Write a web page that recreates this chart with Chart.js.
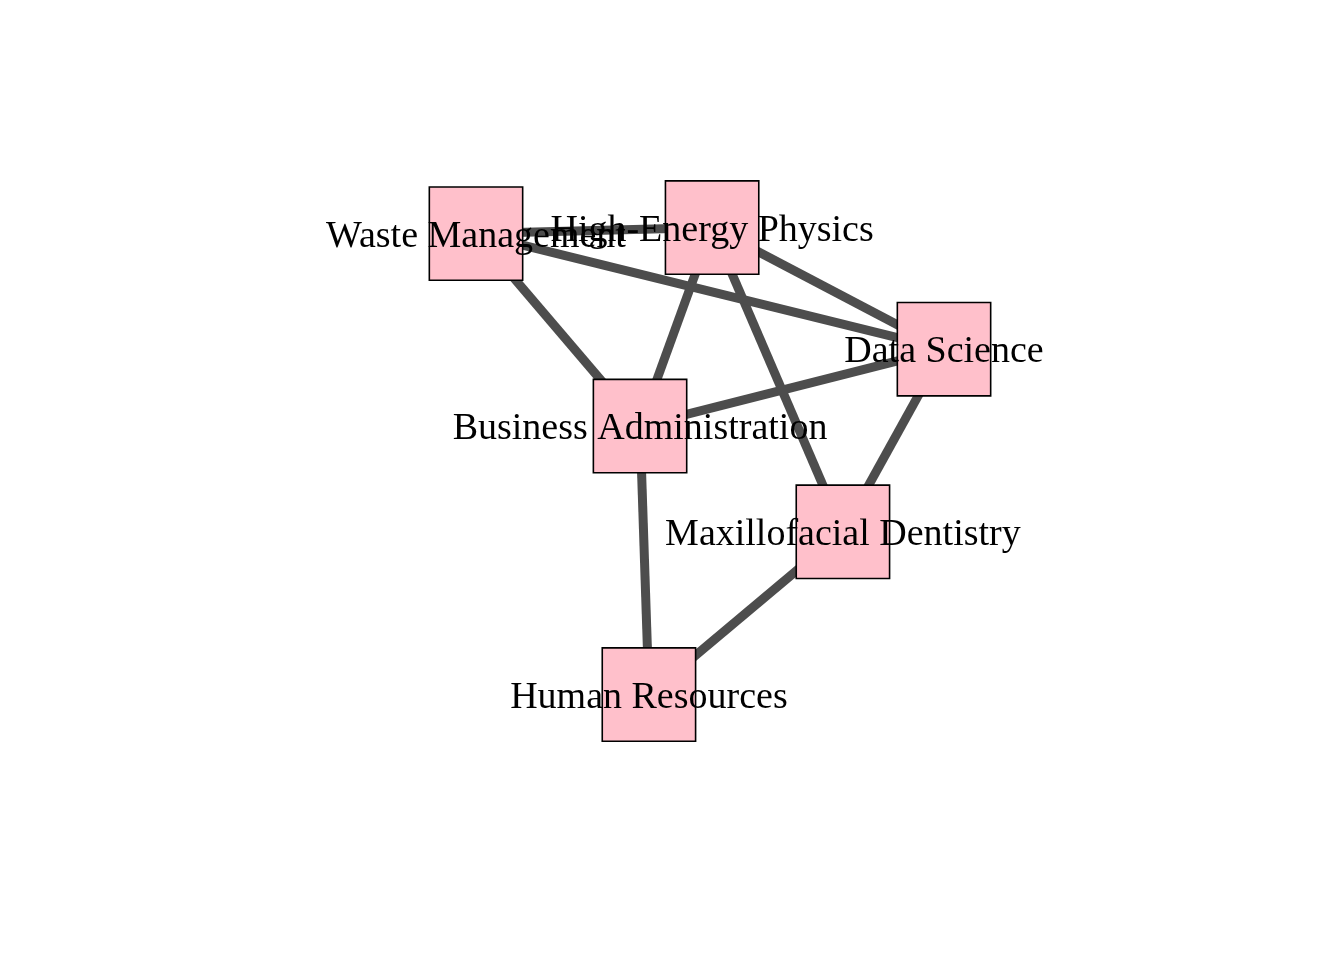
<!DOCTYPE html>
<html>
<head>
<meta charset="utf-8">
<script src="https://cdn.jsdelivr.net/npm/chart.js@4.4.1/dist/chart.umd.min.js"></script>
<style>
  html, body { margin: 0; padding: 0; background: #fff; overflow: hidden; }
  #wrap { width: 1344px; height: 960px; }
</style>
</head>
<body>
<div id="wrap"><canvas id="net"></canvas></div>
<script>
// Network layout (layout units, y up)
const nodeNames = ["Waste Management", "High-Energy Physics", "Data Science",
    "Business Administration", "Maxillofacial Dentistry", "Human Resources"];
const nodeX = [-1.0, 0.009, 1.0, -0.299, 0.568, -0.261];
const nodeY = [0.974, 1.0, 0.479, 0.150, -0.303, -1.0];
// edges as pairs of node indices
const edgeFrom = [0, 0, 0, 1, 1, 1, 2, 2, 3, 4];
const edgeTo   = [1, 2, 3, 2, 3, 4, 3, 4, 5, 5];

let pt = (i) => ({ x: nodeX[i], y: nodeY[i] });

let datasets = edgeFrom.map((f, k) => ({
    type: "scatter",
    data: [pt(f), pt(edgeTo[k])],
    showLine: true,
    borderColor: "#4d4d4d",
    borderWidth: 9,
    borderCapStyle: "butt",
    pointRadius: 0,
    order: 2
}));
datasets.push({
    type: "scatter",
    data: nodeNames.map((n, i) => pt(i)),
    pointStyle: "rect",
    pointRadius: 66,
    pointHoverRadius: 66,
    backgroundColor: "#ffc0cb",
    borderColor: "#000",
    borderWidth: 1.6,
    pointBorderWidth: 1.6,
    order: 1
});

const labelPlugin = {
    id: "nodeLabels",
    afterDatasetsDraw(chart) {
        let ctx = chart.ctx,
            xs = chart.scales.x,
            ys = chart.scales.y;
        ctx.save();
        ctx.font = "38px 'Liberation Serif', 'Times New Roman', serif";
        ctx.fillStyle = "#000";
        ctx.textAlign = "center";
        ctx.textBaseline = "middle";
        nodeNames.forEach((n, i) => {
            ctx.fillText(n, xs.getPixelForValue(nodeX[i]), ys.getPixelForValue(nodeY[i]) + 3);
        });
        ctx.restore();
    }
};

new Chart(document.getElementById("net"), {
    type: "scatter",
    data: { datasets: datasets },
    plugins: [labelPlugin],
    options: {
        responsive: true,
        maintainAspectRatio: false,
        animation: false,
        layout: { padding: 0, autoPadding: false },
        plugins: { legend: { display: false }, tooltip: { enabled: false } },
        scales: {
            x: { display: false, min: -1.0 - 476 / 234, max: 1.0 + 400 / 234 },
            y: { display: false, min: -1.0 - 266 / 234, max: 1.0 + 228 / 234 }
        }
    }
});
</script>
</body>
</html>
